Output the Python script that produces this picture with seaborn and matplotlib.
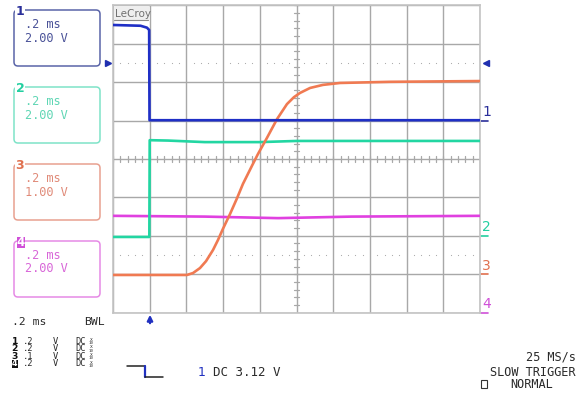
import numpy as np
import pandas as pd
import matplotlib
matplotlib.use("Agg")
import matplotlib.pyplot as plt
import seaborn as sns
from matplotlib.patches import FancyBboxPatch, Rectangle

# ---------------- data (time in ms, level in divisions) ----------------
ch1_t = [0.0, 0.15, 0.185, 0.197, 0.199, 2.0]
ch1_v = [3.49, 3.47, 3.42, 3.36, 1.01, 1.01]

ch2_t = [0.0, 0.198, 0.200, 0.30, 0.50, 0.80, 1.00, 2.0]
ch2_v = [-2.03, -2.03, 0.49, 0.48, 0.44, 0.44, 0.47, 0.47]

ch3_t = [0.0, 0.403, 0.436, 0.474, 0.507, 0.545, 0.572, 0.599, 0.638, 0.676, 0.708,
         0.757, 0.790, 0.839, 0.894, 0.948, 0.986, 1.019, 1.074, 1.144, 1.237, 1.510, 2.0]
ch3_v = [-3.02, -3.02, -2.97, -2.84, -2.66, -2.37, -2.11, -1.82, -1.43, -1.02, -0.65,
         -0.18, 0.13, 0.55, 1.04, 1.43, 1.61, 1.72, 1.85, 1.93, 1.98, 2.01, 2.03]

ch4_t = [0.0, 0.5, 0.9, 1.3, 2.0]
ch4_v = [-1.48, -1.50, -1.54, -1.50, -1.48]

channels = ["1", "2", "3", "4"]
ground_levels = [1.0, -2.0, -3.0, -4.0]
trigger_level = 2.5
trigger_time = 0.2
timebase = [".2 ms", ".2 ms", ".2 ms", ".2 ms"]
vscale = ["2.00 V", "2.00 V", "1.00 V", "2.00 V"]
row_volts = [".2", ".2", ".1", ".2"]

trace_colors = ["#1f2fc6", "#22d6a2", "#f07a52", "#e040e0"]
box_edge = ["#5a64a8", "#7fe3c8", "#e8a090", "#e58ae5"]
box_text = ["#4a5298", "#5fd6b4", "#e08a78", "#d866d8"]
label_col = ["#2a2f9a", "#22cfa0", "#e0704e", "#d050d8"]

# ---------------- figure ----------------
sns.set_theme(style="white")
plt.rcParams["font.family"] = ["DejaVu Sans"]
W, H = 583, 394
fig = plt.figure(figsize=(W / 100, H / 100), dpi=100)
fig.patch.set_facecolor("white")

top_px, bot_px = 5.4, 312.6
ax = fig.add_axes([113 / W, 1 - bot_px / H, 367 / W, (bot_px - top_px) / H])
ax.set_xlim(0, 2.0)
ax.set_ylim(-4, 4)
ax.set_xticks(np.arange(0, 2.001, 0.2))
ax.set_yticks(np.arange(-4, 4.001, 1))
ax.tick_params(length=0, labelbottom=False, labelleft=False)
ax.grid(True, color="#a8a8a8", lw=1.0)
ax.set_axisbelow(True)
for s in ax.spines.values():
    s.set_color("#c4c4c4")
    s.set_linewidth(1.2)

# center cross minor ticks
for t in np.arange(0, 2.0001, 0.04):
    ax.plot([t, t], [-0.08, 0.08], color="#a8a8a8", lw=0.9, zorder=1)
for v in np.arange(-4, 4.0001, 0.2):
    ax.plot([1.0 - 0.016, 1.0 + 0.016], [v, v], color="#a8a8a8", lw=0.9, zorder=1)

# dotted lines at +/-2.5 div
dots_t = [i * 0.2 + j * 0.04 for i in range(10) for j in range(1, 5)]
for yv in (2.5, -2.5):
    ax.scatter(dots_t, [yv] * len(dots_t), s=0.7, color="#a8a8a8", lw=0, zorder=1)

# traces
for t, v, c in zip([ch4_t, ch2_t, ch3_t, ch1_t], [ch4_v, ch2_v, ch3_v, ch1_v],
                   [trace_colors[3], trace_colors[1], trace_colors[2], trace_colors[0]]):
    sns.lineplot(x=t, y=v, color=c, lw=1.9, ax=ax, sort=False, estimator=None, zorder=3)
ax.set_xlabel("")
ax.set_ylabel("")

# ground markers on right
for lab, lvl, c in zip(channels, ground_levels, label_col):
    ax.text(2.011, lvl + 0.04, lab, color=c, fontsize=10, ha="left", va="bottom",
            clip_on=False, family="DejaVu Sans")
    ax.plot([2.005, 2.045], [lvl, lvl], color=c, lw=1.2, clip_on=False)

# trigger level markers
ax.plot([-0.028], [trigger_level], marker=">", color="#2030b0", ms=5, clip_on=False)
ax.plot([2.03], [trigger_level], marker="<", color="#2030b0", ms=5, clip_on=False)

# ---------------- overlay in pixel coords ----------------
ov = fig.add_axes([0, 0, 1, 1], zorder=5)
ov.set_xlim(0, W)
ov.set_ylim(H, 0)
ov.axis("off")
ov.patch.set_alpha(0)

mono = "DejaVu Sans Mono"

# LeCroy label
ov.add_patch(Rectangle((114, 6), 35, 14, facecolor="#eeeeee", edgecolor="none"))
ov.text(115, 13.5, "LeCroy", fontsize=7.5, color="#707070", va="center", ha="left")
ov.plot([114, 148], [19.5, 19.5], color="#8a8a8a", lw=0.8)

# trigger position arrow
ov.annotate("", xy=(150, 312), xytext=(150, 326),
            arrowprops=dict(arrowstyle="-|>", color="#2030c0", lw=1.6, mutation_scale=8))

# channel boxes
box_tops = [10, 87, 164, 241]
for i in range(4):
    y0 = box_tops[i]
    ov.add_patch(FancyBboxPatch((14, y0), 86, 56, boxstyle="round,pad=0,rounding_size=4",
                                facecolor="none", edgecolor=box_edge[i], lw=1.1))
    ov.text(25, y0 + 14.5, timebase[i], fontsize=8.6, family=mono, color=box_text[i],
            va="center", ha="left")
    ov.text(25, y0 + 28, vscale[i], fontsize=8.6, family=mono, color=box_text[i],
            va="center", ha="left")
    if i < 3:
        ov.text(20, y0 + 1, channels[i], fontsize=9, weight="bold", color=label_col[i],
                ha="center", va="center",
                bbox=dict(facecolor="white", edgecolor="none", pad=0.3))
    else:
        ov.add_patch(Rectangle((16.5, y0 - 4), 8, 11, facecolor=label_col[i], edgecolor="none"))
        ov.text(20.5, y0 + 1.5, channels[i], fontsize=8.5, weight="bold", color="white",
                ha="center", va="center")

# bottom-left settings block
txt_c = "#2a2a2a"
ov.text(12, 322, ".2 ms", fontsize=8.2, family=mono, color=txt_c, va="center", ha="left")
ov.text(105, 322, "BWL", fontsize=8.2, family=mono, color=txt_c, va="center", ha="right")
row_y = [341.3, 348.8, 356.3, 363.8]
for i in range(4):
    y = row_y[i]
    if i < 3:
        ov.text(11.5, y, channels[i], fontsize=6.6, weight="bold", color="#111111",
                va="center", ha="left")
    else:
        ov.add_patch(Rectangle((11.5, y - 3.6), 6, 7.4, facecolor="#111111", edgecolor="none"))
        ov.text(14.5, y, channels[i], fontsize=5.8, weight="bold", color="white",
                va="center", ha="center")
    ov.text(22.5, y, row_volts[i], fontsize=6.3, family=mono, color=txt_c, va="center", ha="left")
    ov.text(53, y, "V", fontsize=6.3, family=mono, color=txt_c, va="center", ha="left")
    ov.text(75, y, "DC", fontsize=6.3, family=mono, color=txt_c, va="center", ha="left")
    ov.text(91.5, y - 1.8, "x", fontsize=3.4, family=mono, color=txt_c, va="center", ha="center")
    ov.text(91.5, y + 1.8, "10", fontsize=3.0, family=mono, color=txt_c, va="center", ha="center")

# trigger symbol
ov.plot([127, 145], [366, 366], color="#222222", lw=1.1)
ov.plot([145, 145], [366, 377], color="#2030c0", lw=1.6)
ov.plot([145, 163], [377, 377], color="#222222", lw=1.1)
ov.text(198, 372, "1", fontsize=9, color="#2030c0", va="center", ha="left")
ov.text(213, 372, "DC 3.12 V", fontsize=9, family=mono, color=txt_c, va="center", ha="left")

# bottom-right block
ov.text(576, 357, "25 MS/s", fontsize=8.6, family=mono, color=txt_c, va="center", ha="right")
ov.text(576, 372, "SLOW TRIGGER", fontsize=8.6, family=mono, color=txt_c, va="center", ha="right")
ov.add_patch(Rectangle((480.5, 380), 6.5, 7.5, facecolor="none", edgecolor="#333333", lw=0.8))
ov.text(510, 384, "NORMAL", fontsize=8.6, family=mono, color=txt_c, va="center", ha="left")

fig.savefig("out.png", dpi=100, facecolor="white")
